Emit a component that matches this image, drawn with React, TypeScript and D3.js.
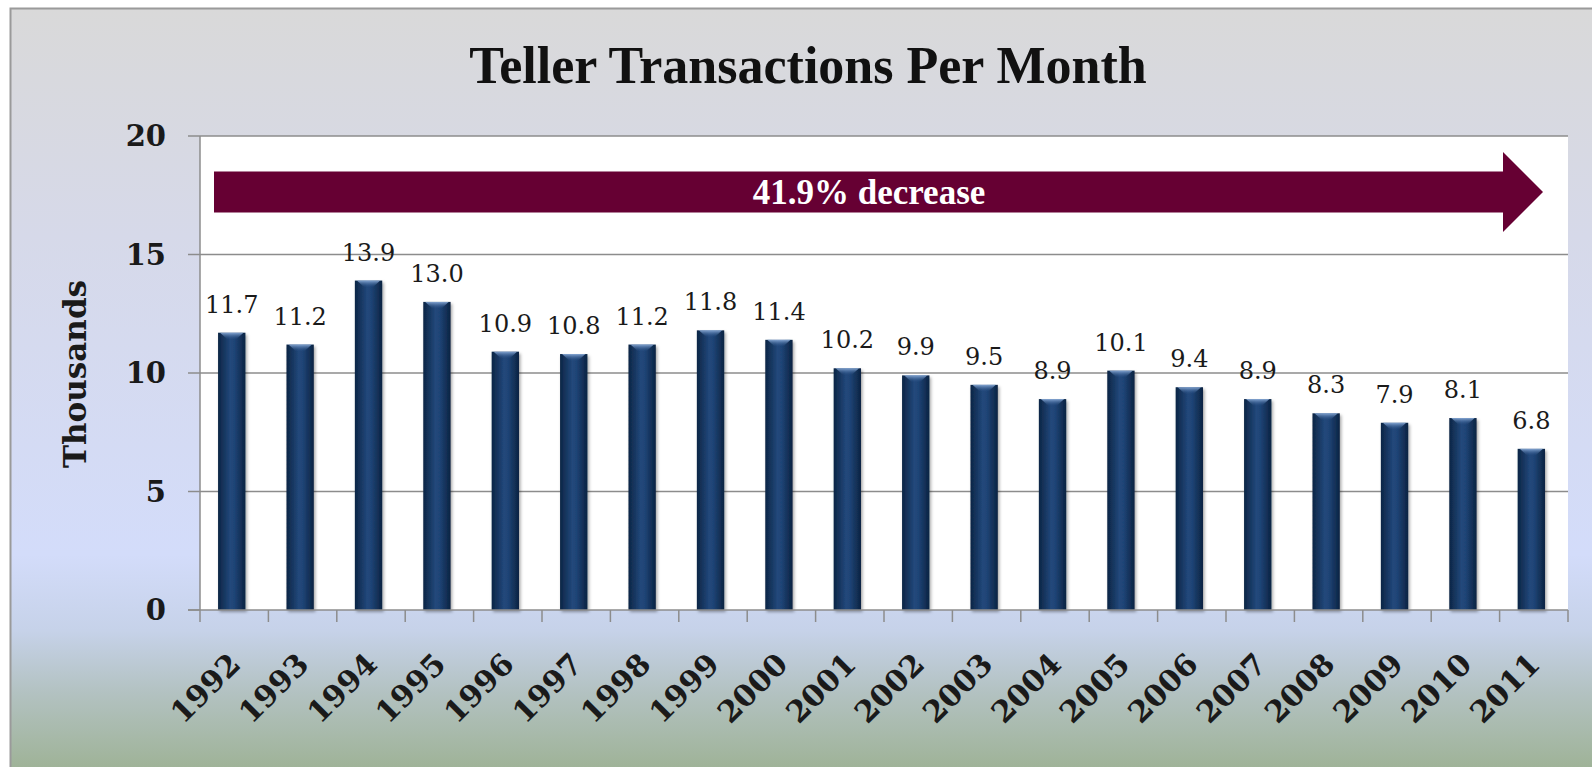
import React from "react";
import * as d3 from "d3";

const years = ["1992","1993","1994","1995","1996","1997","1998","1999","2000","2001","2002","2003","2004","2005","2006","2007","2008","2009","2010","2011"];
const values = [11.7, 11.2, 13.9, 13.0, 10.9, 10.8, 11.2, 11.8, 11.4, 10.2, 9.9, 9.5, 8.9, 10.1, 9.4, 8.9, 8.3, 7.9, 8.1, 6.8];
const yTicks = [0, 5, 10, 15, 20];
const title = "Teller Transactions Per Month";
const yTitle = "Thousands";
const arrowText = "41.9% decrease";
const arrowLevel = 17.64;

const W = 1592, H = 767;
const plot = { left: 200, top: 136, right: 1568, bottom: 610 };

export default function App() {
  const x = d3.scaleBand<string>().domain(years).range([plot.left, plot.right]).paddingInner(0.6).paddingOuter(0.3).align(0.44);
  const xb = d3.scaleBand<string>().domain(years).range([plot.left, plot.right]).padding(0);
  const y = d3.scaleLinear().domain([0, 20]).range([plot.bottom, plot.top]);
  const fmt = d3.format(".1f");
  const serif = "'DejaVu Serif', serif";
  const times = "'Liberation Serif', serif";

  const ay = y(arrowLevel);
  const bodyHalf = 20.5, headHalf = 40;
  const ax0 = plot.left + 14;
  const axTip = plot.right - 25;
  const axHead = axTip - 40;
  const arrowPts = [
    [ax0, ay - bodyHalf], [axHead, ay - bodyHalf], [axHead, ay - headHalf], [axTip, ay],
    [axHead, ay + headHalf], [axHead, ay + bodyHalf], [ax0, ay + bodyHalf],
  ].map(p => p.join(",")).join(" ");

  const boundaries = [...years.map(yr => xb(yr) as number), plot.right];

  return (
    <svg width={W} height={H} style={{ position: "absolute", left: 0, top: 0 }}>
      <defs>
        <linearGradient id="bg" x1="0" y1="0" x2="0" y2="1">
          <stop offset="0" stopColor="#d9d9d9" />
          <stop offset="0.3" stopColor="#d6d9e9" />
          <stop offset="0.72" stopColor="#d3dcfa" />
          <stop offset="0.82" stopColor="#c6d2e9" />
          <stop offset="0.9" stopColor="#b3c2c2" />
          <stop offset="1" stopColor="#9fb398" />
        </linearGradient>
        <linearGradient id="bar" x1="0" y1="0" x2="1" y2="0">
          <stop offset="0" stopColor="#0c2545" />
          <stop offset="0.45" stopColor="#22487b" />
          <stop offset="0.6" stopColor="#1f4476" />
          <stop offset="1" stopColor="#0b2342" />
        </linearGradient>
        <linearGradient id="cap" x1="0" y1="0" x2="0" y2="1">
          <stop offset="0" stopColor="#8fb0dc" stopOpacity="0.9" />
          <stop offset="1" stopColor="#2a5188" stopOpacity="0" />
        </linearGradient>
        <filter id="sh" x="-30%" y="-10%" width="160%" height="130%">
          <feDropShadow dx="1.5" dy="2" stdDeviation="1.8" floodColor="#000" floodOpacity="0.35" />
        </filter>
      </defs>

      <rect x={0} y={0} width={W} height={H} fill="#ffffff" />
      <rect x={10} y={8} width={W - 10} height={H - 8} fill="url(#bg)" />
      <path d={`M10.5,${H} V8.5 H${W}`} fill="none" stroke="#9a9a9a" strokeWidth={2} />

      <text x={808} y={83} textAnchor="middle" fontFamily={times} fontWeight="bold" fontSize={52} fill="#111">{title}</text>

      <rect x={plot.left} y={plot.top} width={plot.right - plot.left} height={plot.bottom - plot.top} fill="#ffffff" />

      {yTicks.map(t => (
        <g key={t}>
          {t > 0 && <line x1={plot.left} x2={plot.right} y1={y(t)} y2={y(t)} stroke="#8c8c8c" strokeWidth={1.5} />}
          <line x1={plot.left - 12} x2={plot.left} y1={y(t)} y2={y(t)} stroke="#8c8c8c" strokeWidth={1.5} />
          <text x={166} y={y(t)} dy="0.36em" textAnchor="end" fontFamily={serif} fontWeight="bold" fontSize={29} fill="#1a1a1a">{t}</text>
        </g>
      ))}
      <line x1={plot.left} x2={plot.left} y1={plot.top} y2={plot.bottom} stroke="#8c8c8c" strokeWidth={1.5} />

      <polygon points={arrowPts} fill="#660033" />
      <text x={869} y={ay} dy="0.35em" textAnchor="middle" fontFamily={times} fontWeight="bold" fontSize={35} fill="#ffffff">{arrowText}</text>

      {years.map((yr, i) => {
        const bx = x(yr) as number;
        const bw = x.bandwidth();
        const top = y(values[i]);
        return (
          <g key={yr}>
            <rect x={bx} y={top} width={bw} height={plot.bottom - top} fill="url(#bar)" filter="url(#sh)" />
            <path d={`M${bx + 2},${top} H${bx + bw - 2} L${bx + bw / 2 + 4},${top + 7} H${bx + bw / 2 - 4} Z`} fill="url(#cap)" />
            <text x={bx + bw / 2} y={top - 20} textAnchor="middle" fontFamily={serif} fontSize={24} fill="#1a1a1a">{fmt(values[i])}</text>
          </g>
        );
      })}

      <line x1={plot.left - 12} x2={plot.right} y1={plot.bottom} y2={plot.bottom} stroke="#8c8c8c" strokeWidth={1.5} />
      {boundaries.map((b, i) => (
        <line key={i} x1={b} x2={b} y1={plot.bottom} y2={plot.bottom + 12} stroke="#8c8c8c" strokeWidth={1.5} />
      ))}

      {years.map(yr => {
        const cx = (xb(yr) as number) + xb.bandwidth() / 2;
        return (
          <text key={yr} transform={`translate(${cx + 8},${666}) rotate(-45)`} textAnchor="end" fontFamily={serif} fontWeight="bold" fontSize={30} fill="#1a1a1a">{yr}</text>
        );
      })}

      <text transform={`translate(86,${374}) rotate(-90)`} textAnchor="middle" fontFamily={serif} fontWeight="bold" fontSize={31} fill="#1a1a1a">{yTitle}</text>
    </svg>
  );
}
